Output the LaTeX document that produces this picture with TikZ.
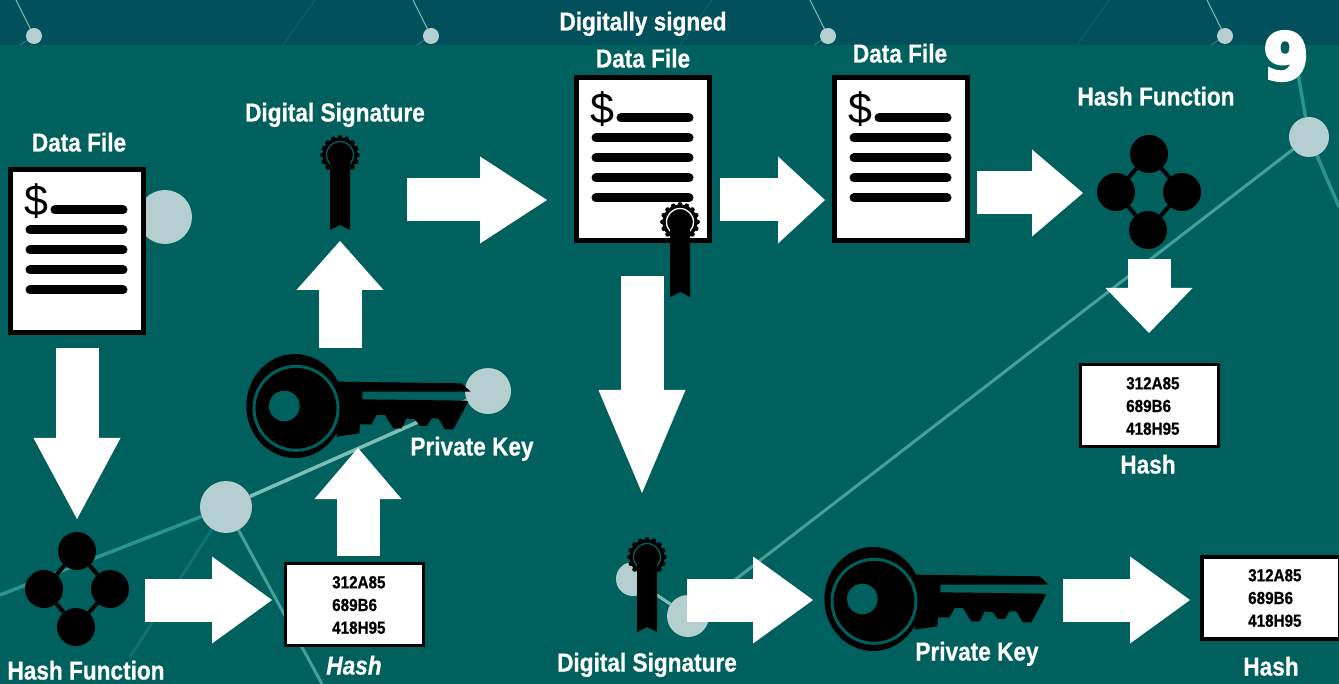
\documentclass[tikz,border=0pt]{standalone}
\usepackage{fontspec}
\usetikzlibrary{arrows.meta,backgrounds}
\newfontfamily\labfont[FakeStretch=0.87,BoldFeatures={FakeBold=0.6,FakeStretch=0.87},BoldItalicFeatures={FakeBold=0.6,FakeStretch=0.87}]{Liberation Sans}
\newfontfamily\dollarfont{Liberation Sans}
\newfontfamily\ninefont[BoldFeatures={FakeBold=6}]{DejaVu Sans}
\definecolor{mainbg}{HTML}{00605E}
\definecolor{stripbg}{HTML}{01505C}
\definecolor{dotc}{HTML}{B5CFD0}
\definecolor{linea}{HTML}{2A9490}
\definecolor{lineb}{HTML}{7FBDB9}
\definecolor{linec}{HTML}{0C7270}
\tikzset{
  x=1pt,y=-1pt,
  bigarrow/.style={draw=white,line width=43pt,-{Triangle[length=#1,width=87pt,fill=white,line width=0pt]}},
  bigarrow/.default=66pt,
  dot/.style={circle,fill=dotc,inner sep=0pt,minimum size=#1},
  lab/.style={text=white,font=\labfont\bfseries\fontsize{26}{28}\selectfont,inner sep=0pt,anchor=base},
  hashtxt/.style={text=black,font=\labfont\bfseries\fontsize{17.5}{22.7}\selectfont,align=left,inner sep=0pt},
  hashbox/.style={draw=black,fill=white,line width=3.5pt,minimum width=138pt,minimum height=82pt,inner sep=0pt},
  textline/.style={line width=9pt,line cap=round,black},
  datafile/.pic={
    \node[draw=black,fill=white,line width=5pt,minimum width=133pt,minimum height=163pt,inner sep=0pt,anchor=north west] (box) at (0,0) {};
    \node[inner sep=0pt,font=\dollarfont\fontsize{43}{43}\selectfont] (sign) at (28,34) {\$};
    \draw[textline] (47,43) -- (115,43);
    \foreach \ly in {63,83,103,123} \draw[textline] (22,\ly) -- (115,\ly);
  },
  hashfn/.pic={
    \node[circle,fill=black,minimum size=38pt,inner sep=0pt] (t) at (0,0) {};
    \node[circle,fill=black,minimum size=38pt,inner sep=0pt] (l) at (-33,38) {};
    \node[circle,fill=black,minimum size=38pt,inner sep=0pt] (r) at (33,38) {};
    \node[circle,fill=black,minimum size=38pt,inner sep=0pt] (b) at (-1,76) {};
    \draw[black,line width=4pt] (t) -- (l) -- (b) -- (r) -- (t);
  },
  seal/.pic={
    \fill[black] (0,0) circle[radius=17.5pt];
    \foreach \ang in {0,22.5,...,337.5} \fill[black] (\ang:17.5) circle[radius=2.4pt];
    \draw[#1,line width=1.3pt] (0,0) circle[radius=13.5pt];
    \fill[black] (-10,75) -- (-10,0) arc[start angle=180,end angle=360,radius=10pt,y radius=-11pt] -- (10,75) -- (0,70) -- cycle;
  },
}
\newcommand{\keyicon}[1]{%
  \begin{scope}[shift={#1},x=0.3333pt,y=-0.3333pt]
    \fill[black] (195,198) ellipse[x radius=146,y radius=156];
    \fill[black] (320,125) -- (695,130) -- (722,155) -- (397,155) -- (397,178) -- (705,182) -- (715,185) -- (670,268) -- (645,268) -- (625,235) -- (605,235) -- (590,258) -- (570,258) -- (555,238) -- (530,235) -- (515,265) -- (490,265) -- (465,225) -- (440,225) -- (425,253) -- (390,253) -- (388,280) -- (320,290) -- cycle;
    \draw[mainbg,line width=3pt] (198,205) circle[radius=126];
    \fill[mainbg] (163,198) circle[radius=46];
  \end{scope}}
\begin{document}
\begin{tikzpicture}
\useasboundingbox (0,0) rectangle (1339,684);
% network nodes
\coordinate (edgeL) at (0,595);
\coordinate (edgeB) at (322,684);
\coordinate (edgeD) at (130,657);
\coordinate (edgeT) at (1293,45);
\coordinate (edgeR) at (1339,207);
\node[dot=40pt] (c3) at (1309,137) {};
\node[dot=52pt] (c2) at (226,507) {};
\node[dot=46pt] (c1) at (488,391) {};
\node[dot=54pt] (c0) at (165,217) {};
\node[dot=34pt] (c4) at (633,579) {};
\node[dot=42pt] (c5) at (688,616) {};
\begin{scope}[on background layer]
\fill[mainbg] (0,0) rectangle (1339,684);
\fill[stripbg] (0,0) rectangle (1339,45);
\foreach \dx in {0,397,794,1191} {
  \draw[lineb,line width=1pt] (16+\dx,0) -- (34+\dx,36);
  \draw[linea,line width=0.7pt] (20+\dx,45) -- (34+\dx,36);
  \draw[linec!70!stripbg,line width=0.8pt] (315+\dx,0) -- (283+\dx,45);
  \fill[dotc] (34+\dx,36) circle[radius=8pt];
}
\draw[linec,line width=3pt] (c2) -- (edgeD);
\draw[linea,line width=3.5pt] (c2) -- (edgeL);
\draw[lineb,line width=3.5pt] (c2) -- (c1);
\draw[linea!70!lineb,line width=3pt] (c2) -- (edgeB);
\draw[linea,line width=3.5pt] (edgeT) -- (c3) -- (edgeR);
\draw[linea!70!lineb,line width=3pt] (c3) -- (c5);
\draw[lineb,line width=3pt] (c4) -- (c5);
\end{scope}
% arrow ends
\coordinate (a1s) at (77,348);   \coordinate (a1e) at (77,519);
\coordinate (a2s) at (340,348);  \coordinate (a2e) at (340,241);
\coordinate (a3s) at (358,556);  \coordinate (a3e) at (358,448);
\coordinate (a4s) at (407,200);  \coordinate (a4e) at (547,200);
\coordinate (a5s) at (720,200);  \coordinate (a5e) at (825,200);
\coordinate (a6s) at (977,193);  \coordinate (a6e) at (1083,193);
\coordinate (a7s) at (642,276);  \coordinate (a7e) at (642,493);
\coordinate (a8s) at (1149,259); \coordinate (a8e) at (1149,333);
\coordinate (a9s) at (145,600);  \coordinate (a9e) at (272,600);
\coordinate (a10s) at (687,600); \coordinate (a10e) at (813,600);
\coordinate (a11s) at (1063,600);\coordinate (a11e) at (1190,600);
% files
\pic (fa) at (8,167) {datafile};
\pic (fb) at (574,75) {datafile};
\pic (fc) at (832,75) {datafile};
% seals
\pic at (340,155) {seal=mainbg};
\pic at (680,222) {seal=white};
\pic at (647,557) {seal=mainbg};
% hash function icons
\pic (ha) at (77,551) {hashfn};
\pic (hb) at (1149,154) {hashfn};
% keys
\keyicon{(230,340)}
\keyicon{(808,533)}
% hash boxes
\node[hashbox] (ba) at (354.5,604.5) {};
\node[hashbox] (bb) at (1149.5,405.5) {};
\node[hashbox] (bc) at (1271,598) {};
\node[hashtxt,anchor=west] (ta) at (332,605) {312A85\\689B6\\418H95};
\node[hashtxt,anchor=west] (tb) at (1126,406) {312A85\\689B6\\418H95};
\node[hashtxt,anchor=west] (tc) at (1248,598) {312A85\\689B6\\418H95};
% arrows
\draw[bigarrow=81pt] (a1s) -- (a1e);
\draw[bigarrow=49pt] (a2s) -- (a2e);
\draw[bigarrow=51pt] (a3s) -- (a3e);
\draw[bigarrow=67pt] (a4s) -- (a4e);
\draw[bigarrow=47pt] (a5s) -- (a5e);
\draw[bigarrow=51pt] (a6s) -- (a6e);
\draw[bigarrow=103pt] (a7s) -- (a7e);
\draw[bigarrow=45pt] (a8s) -- (a8e);
\draw[bigarrow=60pt] (a9s) -- (a9e);
\draw[bigarrow=60pt] (a10s) -- (a10e);
\draw[bigarrow=60pt] (a11s) -- (a11e);
% labels
\node[lab] (l1) at (79,151.5) {Data File};
\node[lab] (l2) at (335,121.5) {Digital Signature};
\node[lab] (l3) at (643,30.5) {Digitally signed};
\node[lab] (l4) at (643,67.5) {Data File};
\node[lab] (l5) at (900,62.5) {Data File};
\node[lab] (l6) at (1156,105.5) {Hash Function};
\node[lab] (l7) at (472,455.5) {Private Key};
\node[lab] (l8) at (1148,473.5) {Hash};
\node[lab] (l9) at (86,679.5) {Hash Function};
\node[lab,font=\labfont\bfseries\itshape\fontsize{26}{28}\selectfont] (l10) at (354,674.5) {Hash};
\node[lab] (l11) at (647,671.5) {Digital Signature};
\node[lab] (l12) at (977,660.5) {Private Key};
\node[lab] (l13) at (1271,675.5) {Hash};
\node[text=white,inner sep=0pt,font=\ninefont\bfseries\fontsize{64}{64}\selectfont] (nine) at (1286,56) {9};
\end{tikzpicture}
\end{document}
